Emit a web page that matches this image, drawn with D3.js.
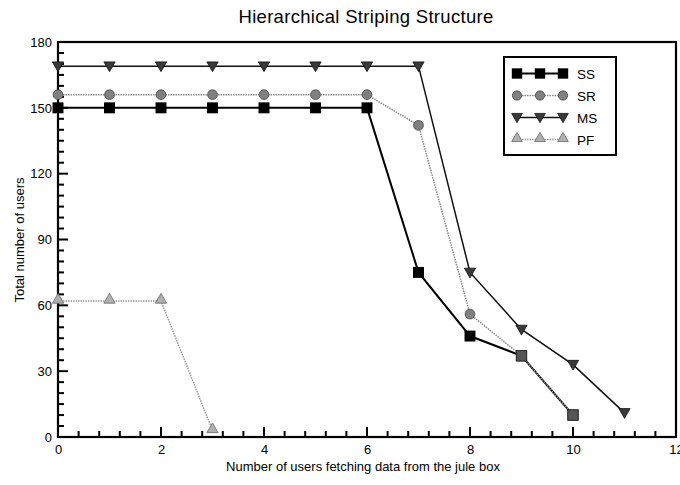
<!DOCTYPE html>
<html><head><meta charset="utf-8">
<script src="https://cdn.jsdelivr.net/npm/d3@7"></script>
<style>body{margin:0;background:#fff}svg{display:block;font-family:"Liberation Sans",Arial,sans-serif}</style>
</head><body><svg id="c" width="680" height="485"></svg>
<script>
const xs = [0,1,2,3,4,5,6,7,8,9,10,11];
const ss = [150,150,150,150,150,150,150,75,46,37,10];
const sr = [156,156,156,156,156,156,156,142,56,37,10];
const ms = [169,169,169,169,169,169,169,169,75,49,33,11];
const pf = [62,62,62,3];
const seriesNames = ["SS","SR","MS","PF"];
const xTicks = [0,2,4,6,8,10,12];
const yTicks = [0,30,60,90,120,150,180];
const xMinor = d3.range(0,31).map(i=>i*0.4);
const yMinor = d3.range(0,37).map(i=>i*5);

const svg = d3.select("#c");
const m = {l:58, r:676, t:42, b:437};
const x = d3.scaleLinear().domain([0,12]).range([m.l,m.r]);
const y = d3.scaleLinear().domain([0,180]).range([m.b,m.t]);
const FONT = "Liberation Sans, Arial, sans-serif";

svg.append("text").attr("x",366).attr("y",23).attr("text-anchor","middle")
  .attr("font-size",18.5).attr("letter-spacing",0.3).text("Hierarchical Striping Structure");

// tick marks as filled rects, placed through the scales
const isMajorX = v => xTicks.includes(Math.round(v*10)/10);
svg.append("g").selectAll("rect").data(xMinor).join("rect")
  .attr("x",v=>x(v)-1).attr("y",v=>m.b-(isMajorX(v)?10:6))
  .attr("width",2).attr("height",v=>isMajorX(v)?10:6).attr("fill","#000");
svg.append("g").selectAll("rect").data(yMinor).join("rect")
  .attr("x",m.l).attr("y",v=>y(v)-1)
  .attr("width",v=>v%30===0?10:6).attr("height",2).attr("fill","#000");

function styleAxis(sel){
  sel.select(".domain").remove();
  sel.selectAll("line").remove();
  sel.selectAll("text").attr("font-size",13).attr("font-family",FONT).attr("fill","#000");
}
svg.append("g").attr("transform",`translate(0,${m.b})`)
  .call(d3.axisBottom(x).tickValues(xTicks).tickSize(0).tickPadding(8))
  .call(styleAxis);
svg.append("g").attr("transform",`translate(${m.l},0)`)
  .call(d3.axisLeft(y).tickValues(yTicks).tickSize(0).tickPadding(6))
  .call(styleAxis);

svg.append("rect").attr("x",m.l).attr("y",m.t).attr("width",m.r-m.l).attr("height",m.b-m.t)
  .attr("fill","none").attr("stroke","#000").attr("stroke-width",2.2);

svg.append("text").attr("x",363).attr("y",471).attr("text-anchor","middle").attr("font-size",13)
  .text("Number of users fetching data from the jule box");
svg.append("text").attr("transform","translate(24,240) rotate(-90)").attr("text-anchor","middle")
  .attr("font-size",13).text("Total number of users");

const styles = {
  SS:{data:ss, stroke:"#000", sw:2, dash:null, sym:d3.symbolSquare, size:120, fill:"#000", ms:"#000", rot:0, dy:0},
  SR:{data:sr, stroke:"#888", sw:1.5, dash:"1.5,1", sym:d3.symbolCircle, size:75, fill:"#808080", ms:"#444", rot:0, dy:0},
  MS:{data:ms, stroke:"#111", sw:1.5, dash:null, sym:d3.symbolTriangle, size:55, fill:"#3a3a3a", ms:"#111", rot:180, dy:-1},
  PF:{data:pf, stroke:"#999", sw:1.5, dash:"1.5,1", sym:d3.symbolTriangle, size:55, fill:"#b0b0b0", ms:"#666", rot:0, dy:-1}
};
const line = d3.line().x((d,i)=>x(xs[i])).y(d=>y(d));
const order = ["PF","MS","SS","SR"];
order.forEach(k=>{
  const s = styles[k];
  svg.append("path").attr("d",line(s.data)).attr("fill","none").attr("stroke",s.stroke)
    .attr("stroke-width",s.sw).attr("stroke-dasharray",s.dash);
});
order.forEach(k=>{
  const s = styles[k];
  svg.append("g").selectAll("path").data(s.data).join("path")
    .attr("d",d3.symbol(s.sym,s.size))
    .attr("transform",(d,i)=>`translate(${x(xs[i])},${y(d)+s.dy}) rotate(${s.rot})`)
    .attr("fill",s.fill).attr("stroke",s.ms).attr("stroke-width",k==="SS"?0:0.8);
});
svg.append("g").selectAll("path").data([9,10]).join("path")
  .attr("d",d3.symbol(d3.symbolSquare,110))
  .attr("transform",d=>`translate(${x(d)},${y(ss[d])})`)
  .attr("fill","#555").attr("stroke","#222").attr("stroke-width",0.8);

const lg = svg.append("g");
lg.append("rect").attr("x",504).attr("y",57).attr("width",112).attr("height",98)
  .attr("fill","#fff").attr("stroke","#000").attr("stroke-width",2);
seriesNames.forEach((k,i)=>{
  const s = styles[k]; const yy = 73.5+i*22;
  lg.append("line").attr("x1",517).attr("x2",563).attr("y1",yy).attr("y2",yy)
    .attr("stroke",s.stroke).attr("stroke-width",s.sw).attr("stroke-dasharray",s.dash);
  [517,540,563].forEach(xx=>{
    lg.append("path").attr("d",d3.symbol(s.sym,s.size*0.9))
      .attr("transform",`translate(${xx},${yy+s.dy}) rotate(${s.rot})`)
      .attr("fill",s.fill).attr("stroke",s.ms).attr("stroke-width",k==="SS"?0:0.8);
  });
  lg.append("text").attr("x",577).attr("y",yy+5).attr("font-size",13.5).text(k);
});
</script></body></html>
